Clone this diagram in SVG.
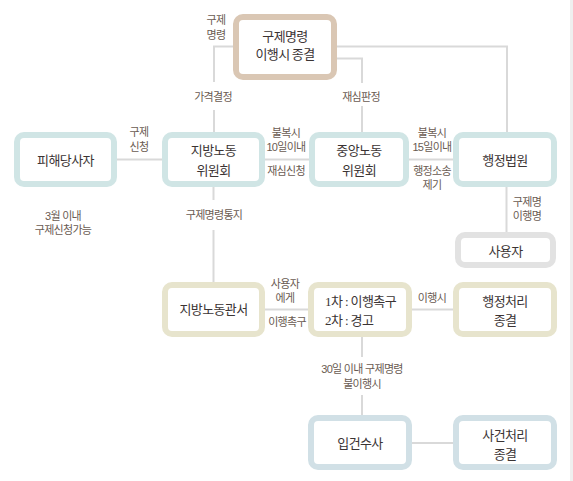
<svg xmlns="http://www.w3.org/2000/svg" width="573" height="481" viewBox="0 0 573 481">
<style>
.n{fill:#fff;stroke-width:6}
.tan{stroke:#dac7b4}
.teal{stroke:#d0e5e5}
.gray{stroke:#e2e2e2}
.olive{stroke:#e7e4cd}
.blue{stroke:#d1e0e6}
.nt{font-family:"Noto Sans CJK KR","Noto Sans",sans-serif;font-size:13px;fill:#3b3434;text-anchor:middle;letter-spacing:-0.6px}
.lb{font-family:"Liberation Sans","Noto Sans CJK KR",sans-serif;font-size:11px;fill:#6a5b52;text-anchor:middle;letter-spacing:-0.7px}
.c{fill:none;stroke:#d9d9d9;stroke-width:2}
</style>
<rect x="0" y="0" width="573" height="481" fill="#fff"/>
<rect x="570" y="0" width="3" height="481" fill="#efefef"/>
<g id="connectors">
<path class="c" d="M214,82 V46.5 H507 V132"/>
<path class="c" d="M214,110 V132"/>
<path class="c" d="M337,58.5 H362 V83"/>
<path class="c" d="M362,106 V132"/>
<path class="c" d="M117,159.5 H162"/>
<path class="c" d="M265,159.5 H309"/>
<path class="c" d="M409,159.5 H453"/>
<path class="c" d="M506.5,187 V232"/>
<path class="c" d="M213.5,187 V200"/>
<path class="c" d="M213.5,230 V282"/>
<path class="c" d="M265,309.5 H308"/>
<path class="c" d="M412,309.5 H453"/>
<path class="c" d="M362,337 V357"/>
<path class="c" d="M362,395 V415"/>
<path class="c" d="M412,443 H453"/>
</g>
<g id="labels">
<text class="lb" x="216" y="24">구제<tspan x="216" dy="15">명령</tspan></text>
<text class="lb" x="213" y="101">가격결정</text>
<text class="lb" x="361" y="101">재심판정</text>
<text class="lb" x="139" y="136">구제<tspan x="139" dy="15">신청</tspan></text>
<text class="lb" x="286" y="137">불복시<tspan x="286" dy="14">10일이내</tspan></text>
<text class="lb" x="286" y="175">재심신청</text>
<text class="lb" x="432" y="137">불복시<tspan x="432" dy="14">15일이내</tspan></text>
<text class="lb" x="432" y="175">행정소송<tspan x="432" dy="14">제기</tspan></text>
<text class="lb" x="63" y="220">3월 이내<tspan x="63" dy="14">구제신청가능</tspan></text>
<text class="lb" x="214" y="219">구제명령통지</text>
<text class="lb" x="527" y="206">구제명<tspan x="527" dy="14">이행명</tspan></text>
<text class="lb" x="285" y="288">사용자<tspan x="285" dy="14">에게</tspan></text>
<text class="lb" x="287" y="326">이행촉구</text>
<text class="lb" x="432" y="302">이행시</text>
<text class="lb" x="362" y="373">30일 이내 구제명령<tspan x="362" dy="15">불이행시</tspan></text>
</g>
<g id="n-top">
<rect class="n tan" x="236" y="17" width="98" height="60" rx="7"/>
<text class="nt" x="285" y="41">구제명령<tspan x="285" dy="18">이행시 종결</tspan></text>
</g>
<g id="n-victim">
<rect class="n teal" x="17" y="135" width="97" height="49" rx="7"/>
<text class="nt" x="65.5" y="165">피해당사자</text>
</g>
<g id="n-local">
<rect class="n teal" x="165" y="135" width="97" height="49" rx="7"/>
<text class="nt" x="213.5" y="155">지방노동<tspan x="213.5" dy="20">위원회</tspan></text>
</g>
<g id="n-central">
<rect class="n teal" x="312" y="135" width="94" height="49" rx="7"/>
<text class="nt" x="359" y="155">중앙노동<tspan x="359" dy="20">위원회</tspan></text>
</g>
<g id="n-court">
<rect class="n teal" x="456" y="135" width="98" height="49" rx="7"/>
<text class="nt" x="505" y="165">행정법원</text>
</g>
<g id="n-employer">
<rect class="n gray" x="458" y="235" width="95" height="30" rx="7"/>
<text class="nt" x="505.5" y="256">사용자</text>
</g>
<g id="n-office">
<rect class="n olive" x="165" y="285" width="97" height="49" rx="7"/>
<text class="nt" x="213.5" y="314">지방노동관서</text>
</g>
<g id="n-steps">
<rect class="n olive" x="311" y="285" width="98" height="49" rx="7"/>
<text class="nt" x="325" y="306" style="text-anchor:start;font-family:'Liberation Serif','Noto Sans CJK KR',serif">1차 : 이행촉구<tspan x="325" dy="19">2차 : 경고</tspan></text>
</g>
<g id="n-admin-end">
<rect class="n olive" x="456" y="285" width="98" height="49" rx="7"/>
<text class="nt" x="505" y="306">행정처리<tspan x="505" dy="19">종결</tspan></text>
</g>
<g id="n-investigate">
<rect class="n blue" x="311" y="418" width="98" height="49" rx="7"/>
<text class="nt" x="360" y="448">입건수사</text>
</g>
<g id="n-case-end">
<rect class="n blue" x="456" y="418" width="98" height="49" rx="7"/>
<text class="nt" x="505" y="440">사건처리<tspan x="505" dy="19">종결</tspan></text>
</g>
</svg>
